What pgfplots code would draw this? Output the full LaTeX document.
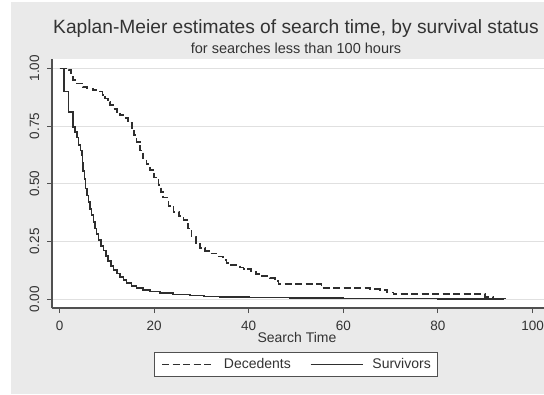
\documentclass[border=0pt]{standalone}
\usepackage{fontspec}
\setmainfont{Liberation Sans}
\usepackage{pgfplots}
\pgfplotsset{compat=1.18}
\definecolor{bggray}{HTML}{EAEAEA}
\definecolor{txt}{HTML}{333333}
\definecolor{ln}{HTML}{2E2E2E}
\definecolor{axl}{HTML}{505050}
\definecolor{grd}{HTML}{E0E0E0}

\begin{document}
\begin{tikzpicture}[x=1bp,y=1bp]
\useasboundingbox (0,0) rectangle (544,394);
\clip (0,0) rectangle (544,394);
\fill[white] (0,0) rectangle (544,394);
\fill[bggray] (11,0) rectangle (544,392);
\begin{axis}[
  at={(52bp,86bp)}, anchor=south west,
  scale only axis, width=492bp, height=249bp,
  xmin=-1.59, xmax=102.43, ymin=-0.0377, ymax=1.0403,
  axis x line=bottom, axis y line=left,
  axis line style={-, draw=axl, line width=1.2bp},
  axis background/.style={fill=white},
  xtick={0,20,40,60,80,100}, ytick={0,0.25,0.5,0.75,1},
  yticklabels={0.00,0.25,0.50,0.75,1.00},
  tick align=outside, major tick length=5bp,
  tick style={draw=axl, line width=1bp},
  ymajorgrids, grid style={draw=grd, line width=1bp},
  /pgf/number format/assume math mode=true,
  ticklabel style={font=\fontsize{13.5bp}{16bp}\selectfont, text=txt, inner sep=0pt},
  yticklabel style={rotate=90, anchor=south},
  xticklabel style={anchor=north},
  yticklabel shift=7.5bp,
  xticklabel shift=7.5bp,
  legend style={at={(0.496,-0.1767)}, anchor=north, legend columns=2,
    draw=axl, line width=1bp, fill=white, text=txt,
    font=\fontsize{14bp}{16bp}\selectfont,
    nodes={inner sep=0pt},
    inner xsep=6.5bp, inner ysep=6bp,
    /tikz/every odd column/.append style={column sep=9bp},
    /tikz/every even column/.append style={column sep=19bp}},
  legend image code/.code={\draw[#1] (0bp,0bp) -- (52bp,0bp);},
]
\addplot[const plot, draw=ln, line width=1.6bp, dash pattern=on 7bp off 3.5bp] table {
t v
0 1.0
1.9 0.993
2.4 0.97
2.8 0.95
3.6 0.935
5.0 0.92
5.75 0.913
7.1 0.906
8.6 0.899
9.1 0.885
9.6 0.87
10.2 0.855
10.7 0.841
11.4 0.825
12.1 0.812
12.8 0.798
13.5 0.784
14.5 0.762
15.3 0.74
15.8 0.71
16.3 0.682
17.0 0.645
17.7 0.61
18.4 0.585
19.1 0.56
20.0 0.527
20.9 0.495
21.4 0.465
21.9 0.44
23.0 0.405
24.1 0.379
25.2 0.36
26.2 0.343
27.2 0.307
27.9 0.271
28.8 0.245
29.7 0.221
30.8 0.21
31.8 0.199
33.2 0.185
34.6 0.17
35.3 0.158
36.0 0.148
38.2 0.138
38.9 0.13
40.5 0.12
41.5 0.11
42.4 0.10
44.5 0.091
45.5 0.078
46.3 0.065
55.4 0.048
65.6 0.044
67.8 0.040
69.2 0.030
70.6 0.022
90.0 0.011
91.7 0.004
94.2 0.0
};
\addlegendentry{Decedents}
\addplot[const plot, draw=ln, line width=1.6bp] table {
t v
0 1.0
0.95 0.90
1.9 0.81
2.8 0.747
3.3 0.725
3.7 0.70
4.0 0.668
4.4 0.645
4.7 0.625
4.85 0.59
5.0 0.555
5.25 0.52
5.5 0.48
5.8 0.45
6.1 0.42
6.45 0.39
6.8 0.365
7.15 0.335
7.5 0.307
7.85 0.282
8.2 0.257
8.75 0.232
9.3 0.212
9.8 0.188
10.3 0.165
10.85 0.145
11.4 0.128
12.1 0.112
12.8 0.097
13.5 0.083
14.2 0.070
15.2 0.058
16.3 0.048
17.7 0.040
19.1 0.033
21.2 0.026
24.0 0.020
27.6 0.016
30.5 0.012
33.9 0.009
40.0 0.008
44.5 0.007
48.7 0.005
60.0 0.004
70.0 0.003
80.0 0.002
94.0 0.002
};
\addlegendentry{Survivors}
\end{axis}
\node[anchor=base, text=txt, font=\fontsize{19.2bp}{22bp}\selectfont] at (296,361) {Kaplan-Meier estimates of search time, by survival status};
\node[anchor=base, text=txt, font=\fontsize{14.5bp}{17bp}\selectfont] at (296,341) {for searches less than 100 hours};
\node[anchor=base, text=txt, font=\fontsize{14bp}{16bp}\selectfont] at (297,52) {Search Time};
\end{tikzpicture}
\end{document}
